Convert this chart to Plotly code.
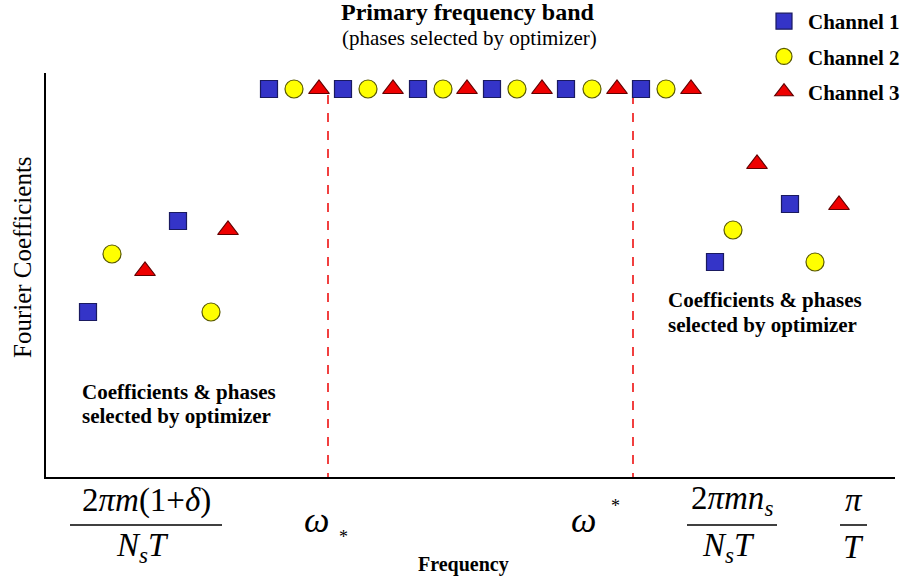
import plotly.graph_objects as go

# ---- data (frequency / coefficient units) ----
names = ["Channel 1", "Channel 2", "Channel 3"]
symbols = ["square", "circle", "triangle-up"]
fills = ["#3434c8", "#ffff00", "#ee0000"]
edges = ["#1a1a60", "#5a5a00", "#600000"]

# low band (left group)
low_x = [[42, 132], [66, 165], [99, 182]]
low_y = [[165, 256], [223, 165], [206, 247]]
# primary band (top row)
band_x = [[223, 297, 372, 446, 520, 595],
          [248, 322, 397, 471, 546, 620],
          [273, 347, 421, 496, 571, 645]]
band_level = 388
# high band (right group)
high_x = [[669, 744], [687, 769], [711, 793]]
high_y = [[215, 273], [247, 215], [313, 272]]

band_edges = [282, 587]      # omega_*, omega^*
band_edge_top = 382
x_range = [0, 849]
y_range = [0, 404]

tick_fracs = [
    ("2<i>πm</i>(1+<i>δ</i>)", "<i>N<sub>s</sub>T</i>", 70, 222),
    ("2<i>πmn<sub>s</sub></i>", "<i>N<sub>s</sub>T</i>", 687, 777),
    ("<i>π</i>", "<i>T</i>", 840, 867),
]

W, H = 907, 583
fig = go.Figure()

for bx in band_edges:
    fig.add_trace(go.Scatter(
        x=[bx, bx], y=[band_edge_top, -6], mode="lines", showlegend=False,
        line=dict(color="#ee1111", width=1.6, dash="dash"), cliponaxis=False,
        hoverinfo="skip"))

for i in range(3):
    xs = low_x[i] + band_x[i] + high_x[i]
    ys = low_y[i] + [band_level] * len(band_x[i]) + high_y[i]
    fig.add_trace(go.Scatter(
        x=xs, y=ys, mode="markers", name="<b>" + names[i] + "</b>",
        legendgroup=names[i],
        marker=dict(symbol=symbols[i], size=18 if i else 17, color=fills[i],
                    line=dict(color=edges[i], width=1.2)),
        cliponaxis=False,
    ))

serif = "Liberation Serif, Times New Roman, serif"

fig.update_layout(
    width=W, height=H,
    margin=dict(l=0, r=0, t=0, b=0),
    paper_bgcolor="white", plot_bgcolor="white",
    showlegend=True,
    legend=dict(x=760 / W, y=1 - 1 / H, xanchor="left", yanchor="top",
                font=dict(family=serif, size=21, color="black"),
                itemwidth=38, tracegroupgap=5, bgcolor="rgba(0,0,0,0)"),
    xaxis=dict(domain=[46 / W, 895 / W], range=x_range, showgrid=False,
               zeroline=False, showticklabels=False, ticks="",
               showline=True, linecolor="black", linewidth=2),
    yaxis=dict(domain=[(H - 477) / H, (H - 73) / H], range=y_range,
               showgrid=False, zeroline=False, showticklabels=False, ticks="",
               showline=True, linecolor="black", linewidth=2),
    hovermode=False,
)

ann = []
def txt(x, y, t, size, angle=0, xanchor="center"):
    ann.append(dict(x=x / W, y=1 - y / H, xref="paper", yref="paper", text=t,
                    showarrow=False, xanchor=xanchor, yanchor="middle",
                    textangle=angle,
                    font=dict(family=serif, size=size, color="black")))

txt(468, 12, "<b>Primary frequency band</b>", 24)
txt(470, 38, "(phases selected by optimizer)", 21)
txt(22, 257, "Fourier Coefficients", 25, angle=-90)
txt(80, 392, "<b>Coefficients &amp; phases</b>", 21, xanchor="left")
txt(80, 416, "<b>selected by optimizer</b>", 21, xanchor="left")
txt(666, 300, "<b>Coefficients &amp; phases</b>", 21, xanchor="left")
txt(666, 325, "<b>selected by optimizer</b>", 21, xanchor="left")
txt(463, 564, "<b>Frequency</b>", 20)
# omega_* and omega^*
txt(316, 520, "<i>ω</i>", 36)
txt(343, 537, "*", 18)
txt(583, 520, "<i>ω</i>", 36)
txt(615, 506, "*", 18)

shapes = []
for top, bot, x0, x1 in tick_fracs:
    cx = (x0 + x1) / 2
    txt(cx, 500, top, 33)
    txt(cx - (4 if top != "<i>π</i>" else 0), 547, bot, 33)
    shapes.append(dict(type="line", xref="paper", yref="paper",
                       x0=x0 / W, x1=x1 / W, y0=1 - 525 / H, y1=1 - 525 / H,
                       line=dict(color="black", width=1.5)))

fig.update_layout(annotations=ann, shapes=shapes)
fig.write_html("out.html")
